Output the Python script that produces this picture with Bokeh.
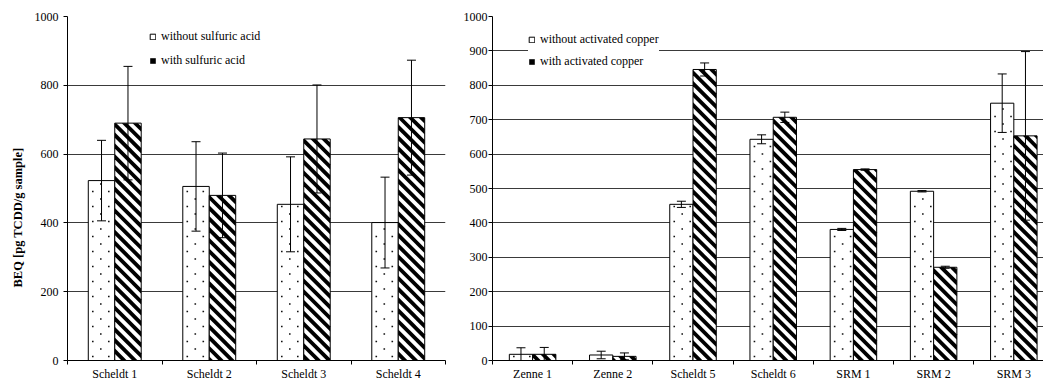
import math
from bokeh.plotting import figure
from bokeh.models import (Range1d, FixedTicker, ColumnDataSource, Whisker, TeeHead,
                          Legend, LegendItem, Title)
from bokeh.layouts import row
from bokeh.transform import dodge
from bokeh.embed import file_html
from bokeh.resources import INLINE

# ---- data ----
left_cats = ["Scheldt 1", "Scheldt 2", "Scheldt 3", "Scheldt 4"]
left_without = [523, 506, 454, 401]
left_without_err = [117, 130, 138, 132]
left_with = [690, 480, 644, 706]
left_with_err = [165, 123, 157, 167]
left_labels = ["without sulfuric acid", "with sulfuric acid"]

right_cats = ["Zenne 1", "Zenne 2", "Scheldt 5", "Scheldt 6", "SRM 1", "SRM 2", "SRM 3"]
right_without = [18, 16, 454, 643, 381, 492, 748]
right_without_err = [19, 11, 9, 13, 3, 2, 85]
right_with = [18, 12, 846, 707, 555, 271, 653]
right_with_err = [20, 10, 19, 15, 2, 3, 245]
right_labels = ["without activated copper", "with activated copper"]

y_title = "BEQ [pg TCDD/g sample]"

FONT = "Liberation Serif"
FIG_H = 383
BORDER_TOP = 16
BORDER_BOTTOM = 23


def clip_half(poly, c, keep_ge):
    """Clip polygon by half-plane u+v >= c (keep_ge) or u+v <= c."""
    out = []
    n = len(poly)
    for i in range(n):
        p = poly[i]
        q = poly[(i + 1) % n]
        fp = p[0] + p[1] - c
        fq = q[0] + q[1] - c
        inp = fp >= 0 if keep_ge else fp <= 0
        inq = fq >= 0 if keep_ge else fq <= 0
        if inp:
            out.append(p)
        if inp != inq:
            t = fp / (fp - fq)
            out.append((p[0] + t * (q[0] - p[0]), p[1] + t * (q[1] - p[1])))
    return out


def stripe_patches(x_left, x_right, tops, x0, sx, sy, period=10.8, thick=5.4):
    xs, ys = [], []
    for xl, xr, top in zip(x_left, x_right, tops):
        U0, U1, Vt = (xl - x0) * sx, (xr - x0) * sx, top * sy
        rect = [(U0, 0.0), (U1, 0.0), (U1, Vt), (U0, Vt)]
        c = math.floor((U0 - period) / period) * period
        while c < U1 + Vt:
            poly = clip_half(clip_half(rect, c, True), c + thick, False)
            if len(poly) >= 3:
                xs.append([x0 + u / sx for u, v in poly])
                ys.append([v / sy for u, v in poly])
            c += period
    return xs, ys


def dot_points(x_left, x_right, tops, x0, sx, sy):
    px, py = [], []
    for xl, xr, top in zip(x_left, x_right, tops):
        U0, U1, Vt = (xl - x0) * sx, (xr - x0) * sx, top * sy
        r = 0
        v = 4.0
        while v < Vt - 2:
            u = U0 + 4.5 + (8 if r % 2 else 0)
            while u < U1 - 2:
                px.append(x0 + u / sx)
                py.append(v / sy)
                u += 16
            v += 7.5
            r += 1
    return px, py


def panel(cats, v0, e0, v1, e1, labels, bar_w, x_end, y_step, width,
          mbl, mbr, leg_loc, leg_spacing, leg_pad):
    n = len(cats)
    idx = list(range(1, n + 1))
    x_start = 0.5
    src = ColumnDataSource(dict(
        x=idx, v0=v0, v1=v1,
        u0=[a + b for a, b in zip(v0, e0)], l0=[a - b for a, b in zip(v0, e0)],
        u1=[a + b for a, b in zip(v1, e1)], l1=[a - b for a, b in zip(v1, e1)],
    ))
    p = figure(width=width, height=FIG_H, x_range=Range1d(x_start, x_end),
               y_range=Range1d(0, 1000), output_backend="svg",
               toolbar_location=None, min_border_left=mbl, min_border_right=mbr,
               min_border_top=BORDER_TOP, min_border_bottom=BORDER_BOTTOM)
    p.outline_line_color = None
    p.background_fill_color = "white"
    p.border_fill_color = "white"
    p.xgrid.visible = False
    p.ygrid.grid_line_color = "#3a3a3a"
    p.ygrid.grid_line_width = 1

    p.yaxis.ticker = FixedTicker(ticks=list(range(0, 1001, y_step)))
    p.xaxis.ticker = FixedTicker(ticks=idx, minor_ticks=[i + 0.5 for i in range(0, n + 1)])
    p.xaxis.major_label_overrides = {i: c for i, c in zip(idx, cats)}

    for ax in (p.xaxis[0], p.yaxis[0]):
        ax.axis_line_color = "black"
        ax.major_label_text_font = FONT
        ax.major_label_text_font_size = "12px"
        ax.major_label_text_color = "black"
        ax.major_tick_line_color = "black"
        ax.minor_tick_line_color = "black"
    p.xaxis.major_tick_out = 0
    p.xaxis.major_tick_in = 0
    p.xaxis.minor_tick_out = 4
    p.xaxis.minor_tick_in = 0
    p.xaxis.major_label_standoff = 2
    p.yaxis.major_tick_out = 4
    p.yaxis.major_tick_in = 0
    p.yaxis.minor_tick_line_color = None
    p.yaxis.major_label_standoff = 5 if mbl > 40 else 1

    # pixel scales of the frame (for drawing the bar fill patterns)
    sx = (width - mbl - mbr) / (x_end - x_start)
    sy = (FIG_H - BORDER_TOP - BORDER_BOTTOM) / 1000.0

    r0 = p.vbar(x=dodge("x", -bar_w / 2, range=p.x_range), top="v0", width=bar_w,
                source=src, fill_color="white", line_color="black", line_width=1)
    p.vbar(x=dodge("x", bar_w / 2, range=p.x_range), top="v1", width=bar_w,
           source=src, fill_color="white", line_color="black", line_width=1)

    # dotted fill of the "without" bars
    dl = [i - bar_w for i in idx]
    dr = [float(i) for i in idx]
    dx, dy = dot_points(dl, dr, v0, x_start, sx, sy)
    p.scatter(dx, dy, marker="square", size=1.6, fill_color="#111111",
              line_color=None)

    # diagonal stripes of the "with" bars
    hl = [float(i) for i in idx]
    hr = [i + bar_w for i in idx]
    pxs, pys = stripe_patches(hl, hr, v1, x_start, sx, sy)
    r1 = p.patches(pxs, pys, fill_color="black", line_color=None)

    for off, u, l in ((-bar_w / 2, "u0", "l0"), (bar_w / 2, "u1", "l1")):
        w = Whisker(base=dodge("x", off, range=p.x_range), upper=u, lower=l, source=src,
                    line_color="black", line_width=1, level="annotation",
                    upper_head=TeeHead(size=9, line_color="black", line_width=1),
                    lower_head=TeeHead(size=9, line_color="black", line_width=1))
        p.add_layout(w)

    leg = Legend(items=[LegendItem(label=labels[0], renderers=[r0]),
                        LegendItem(label=labels[1], renderers=[r1])],
                 location=leg_loc, orientation="vertical",
                 label_text_font=FONT, label_text_font_size="12px",
                 label_text_color="black", glyph_width=7, glyph_height=7,
                 label_standoff=5, spacing=leg_spacing, padding=leg_pad,
                 label_height=14, margin=0, border_line_color=None,
                 background_fill_color="white", background_fill_alpha=1.0)
    p.add_layout(leg)
    return p


p1 = panel(left_cats, left_without, left_without_err, left_with, left_with_err,
           left_labels, 0.28, 4.5, 200, 460, 67, 15, (82, 292), 9, 4)
p1.add_layout(Title(text=y_title, align="left", offset=73, standoff=14,
                    text_font=FONT, text_font_size="12.5px", text_font_style="bold",
                    text_color="black"), "left")

p2 = panel(right_cats, right_without, right_without_err, right_with, right_with_err,
           right_labels, 0.29, 7.37, 100, 583, 31, 0, (36, 291), 7, 6)

layout = row(p1, p2)
open("out.html", "w").write(file_html(layout, INLINE))
